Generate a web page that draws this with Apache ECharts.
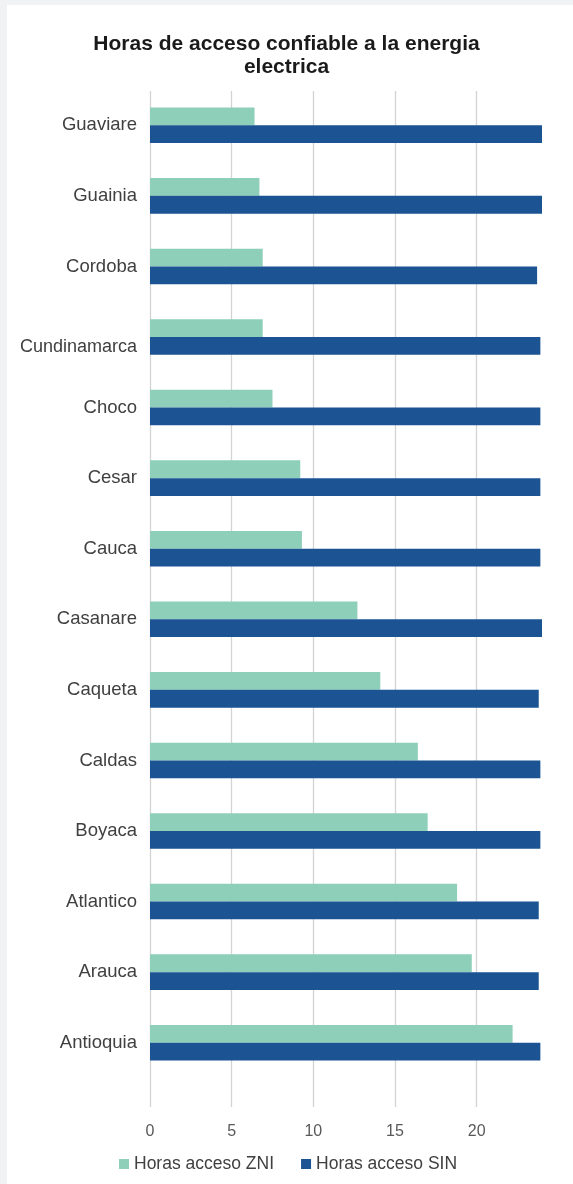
<!DOCTYPE html>
<html>
<head>
<meta charset="utf-8">
<script src="https://cdn.jsdelivr.net/npm/echarts@6/dist/echarts.min.js"></script>
<style>
  html, body { margin: 0; padding: 0; background: #f1f2f4; }
  #panel { position: absolute; left: 7px; top: 5px; right: 0; bottom: 0; background: #ffffff; }
  #chart { position: absolute; left: 0; top: 0; width: 573px; height: 1184px; }
</style>
</head>
<body>
<div id="panel"></div>
<div id="chart"></div>
<script>
// Departments, top to bottom
const categories = ['Guaviare', 'Guainia', 'Cordoba', 'Cundinamarca', 'Choco', 'Cesar', 'Cauca',
  'Casanare', 'Caqueta', 'Caldas', 'Boyaca', 'Atlantico', 'Arauca', 'Antioquia'];

// Hours of reliable electricity access
const horasZNI = [6.4, 6.7, 6.9, 6.9, 7.5, 9.2, 9.3, 12.7, 14.1, 16.4, 17.0, 18.8, 19.7, 22.2];
const horasSIN = [24, 24, 23.7, 23.9, 23.9, 23.9, 23.9, 24, 23.8, 23.9, 23.9, 23.8, 23.8, 23.9];

// Value axis
const axisMax = 24;
const tickStep = 5;

const seriesNames = ['Horas acceso ZNI', 'Horas acceso SIN'];
const colors = ['#8dcfb9', '#1b5393'];
const FONT = "'Liberation Sans', Arial, sans-serif";

const chart = echarts.init(document.getElementById('chart'), null, { renderer: 'canvas' });

chart.setOption({
  backgroundColor: 'transparent',
  animation: false,
  title: {
    text: 'Horas de acceso confiable a la energia\nelectrica',
    left: 'center',
    top: 28,
    textStyle: {
      fontFamily: FONT,
      fontSize: 21,
      fontWeight: 'bold',
      color: '#1a1a1a',
      lineHeight: 23
    }
  },
  legend: {
    data: seriesNames,
    left: 119,
    top: 1155,
    padding: 0,
    icon: 'rect',
    itemWidth: 10,
    itemHeight: 10,
    itemGap: 27,
    textStyle: { fontFamily: FONT, fontSize: 17.5, color: '#404040' }
  },
  grid: [
    // bars
    { left: 150, right: 31, top: 90, height: 988 },
    // gridlines and value labels
    { left: 150, right: 31, top: 91, bottom: 77 }
  ],
  xAxis: [
    { gridIndex: 0, type: 'value', min: 0, max: axisMax, show: false },
    {
      gridIndex: 1, type: 'value', min: 0, max: axisMax, interval: tickStep,
      axisLine: { show: false },
      axisTick: { show: false },
      splitLine: { show: true, showMaxLine: false, lineStyle: { color: '#d3d3d3', width: 1.3 } },
      axisLabel: {
        showMaxLabel: false,
        margin: 17,
        fontFamily: FONT,
        fontSize: 16,
        color: '#595959'
      }
    }
  ],
  yAxis: [
    {
      gridIndex: 0, type: 'category', inverse: true, data: categories,
      axisLine: { show: false },
      axisTick: { show: false },
      axisLabel: {
        margin: 13,
        fontFamily: FONT,
        fontSize: 18.5,
        color: '#404040',
        formatter: function (v) {
          return v === 'Cundinamarca' ? '{low|' + v + '}' : v;
        },
        rich: {
          low: { fontFamily: FONT, fontSize: 18, color: '#404040', padding: [20, 0, 0, 0] }
        }
      }
    },
    { gridIndex: 1, type: 'value', show: false }
  ],
  series: [
    {
      name: seriesNames[0], type: 'bar', xAxisIndex: 0, yAxisIndex: 0,
      data: horasZNI, barWidth: 17.8, barGap: '0%',
      itemStyle: { color: colors[0] }
    },
    {
      name: seriesNames[1], type: 'bar', xAxisIndex: 0, yAxisIndex: 0,
      data: horasSIN, barWidth: 17.8, barGap: '0%',
      itemStyle: { color: colors[1] }
    }
  ]
});
</script>
</body>
</html>
